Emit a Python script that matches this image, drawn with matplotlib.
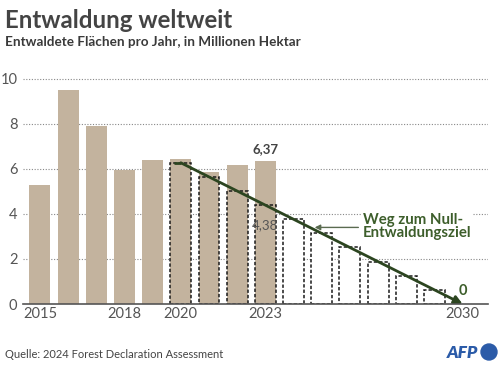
import matplotlib
matplotlib.use("Agg")
import matplotlib.pyplot as plt
from matplotlib.patches import Ellipse

# Entwaldete Flächen pro Jahr (Mio. ha)
years = [2015, 2016, 2017, 2018, 2019, 2020, 2021, 2022, 2023]
values = [5.28, 9.52, 7.9, 5.93, 6.39, 6.42, 5.88, 6.15, 6.37]

# Weg zum Null-Entwaldungsziel
path_years = [2020, 2021, 2022, 2023, 2024, 2025, 2026, 2027, 2028, 2029]
path_values = [6.27, 5.64, 5.02, 4.38, 3.76, 3.13, 2.51, 1.88, 1.25, 0.63]
path_line_x = [2019.75, 2020, 2030]
path_line_y = [6.27, 6.27, 0]

yticks = [0, 2, 4, 6, 8, 10]
xticks = [2015, 2018, 2020, 2023, 2030]

brown = "#c3b39e"
green = "#3d5e2b"
dark_green = "#2c4520"
grey = "#444444"

plt.rcParams["font.family"] = ["Lato", "DejaVu Sans"]

fig = plt.figure(figsize=(5, 3.72), dpi=100)
ax = fig.add_axes([23 / 500, 68 / 372, 465 / 500, 232 / 372])

ax.bar(years, values, width=0.74, color=brown, zorder=2)

for y, v in zip(path_years, path_values):
    fill = "white" if y > 2023 else "none"
    ax.bar(y, v, width=0.74, facecolor=fill, edgecolor="#1a1a1a",
           linewidth=1.1, linestyle=(0, (2.2, 1.3)), zorder=3)

ax.plot(path_line_x[:-1], path_line_y[:-1], color=dark_green, lw=2, zorder=4,
        solid_capstyle="butt")
ax.annotate("", xy=(path_line_x[-1], path_line_y[-1]),
            xytext=(path_line_x[1], path_line_y[1]),
            arrowprops=dict(arrowstyle="-|>", color=dark_green, lw=2,
                            mutation_scale=12, shrinkA=0, shrinkB=0),
            zorder=4)

ax.set_xlim(2014.4, 2030.9)
ax.set_ylim(0, 10.3)
ax.set_yticks(yticks)
ax.set_xticks(xticks)
ax.set_yticklabels([str(t) for t in yticks])
ax.set_xticklabels([str(t) for t in xticks])
ax.tick_params(axis="both", length=0, labelsize=10.5, labelcolor="#555555")
ax.tick_params(axis="y", pad=4)
ax.tick_params(axis="x", pad=2)
ax.yaxis.grid(True, linestyle=(0, (1, 1.5)), color="#888888", lw=0.8, zorder=0)
ax.set_axisbelow(True)
for s in ["top", "right", "left"]:
    ax.spines[s].set_visible(False)
ax.spines["bottom"].set_color("#555555")
ax.spines["bottom"].set_linewidth(1.2)
ax.spines["bottom"].set_zorder(5)

# Beschriftungen
ax.text(2023, values[-1] + 0.25, "6,37", ha="center", va="bottom",
        fontsize=9.5, fontweight="bold", color=grey)
ax.text(2023, 3.48, "4,38", ha="center", va="center", fontsize=9.5,
        color="#555555", zorder=5)
ax.text(2030, 0.25, "0", ha="center", va="bottom", fontsize=10.5,
        fontweight="bold", color=green, zorder=5)
ax.text(2026.45, 3.45, "Weg zum Null-\nEntwaldungsziel", ha="left",
        va="center", fontsize=10.8, fontweight="bold", color=green,
        linespacing=0.95, zorder=5,
        bbox=dict(facecolor="white", edgecolor="none", pad=1))
ax.annotate("", xy=(2024.75, 3.4), xytext=(2026.3, 3.4),
            arrowprops=dict(arrowstyle="-|>", color="#5a6b50", lw=1,
                            mutation_scale=8, shrinkA=0, shrinkB=0),
            zorder=5)

fig.text(5 / 500, 1 - 20 / 372, "Entwaldung weltweit", ha="left",
         va="center", fontsize=17.3, fontweight="bold", color="#444444")
fig.text(5 / 500, 1 - 42 / 372, "Entwaldete Flächen pro Jahr, in Millionen Hektar",
         ha="left", va="center", fontsize=9.7, fontweight="bold", color="#3a3a3a")
fig.text(5 / 500, 1 - 355 / 372, "Quelle: 2024 Forest Declaration Assessment",
         ha="left", va="center", fontsize=8, color=grey)

fig.text(462 / 500, 1 - 353 / 372, "AFP", ha="center", va="center",
         fontsize=12.5, fontweight="heavy", style="italic", color="#2b5ba8")
fig.patches.append(Ellipse((489 / 500, 1 - 352 / 372), 16 / 500, 16 / 372,
                           transform=fig.transFigure, color="#2b5ba8"))

fig.savefig("out.png", dpi=100)
